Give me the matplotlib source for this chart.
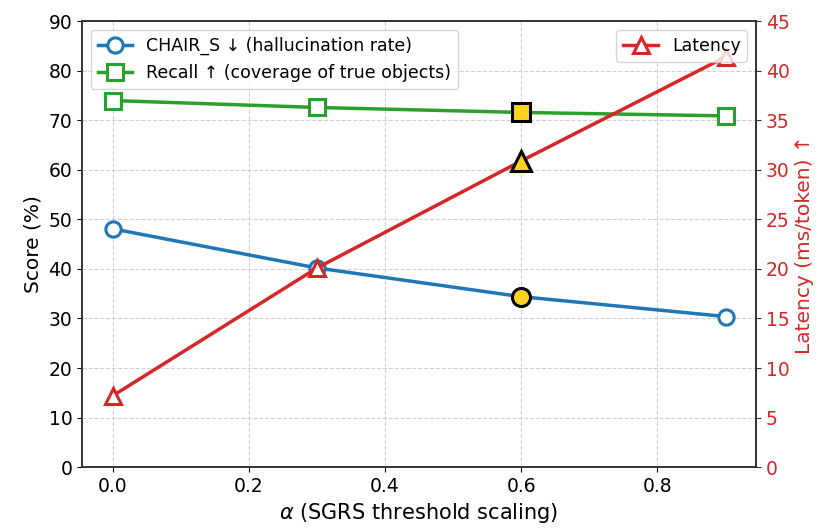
import matplotlib.pyplot as plt
import numpy as np

alpha = [0.0, 0.3, 0.6, 0.9]
chair_s = [48.1, 40.2, 34.4, 30.4]
recall = [74.0, 72.6, 71.6, 70.9]
latency = [7.2, 20.1, 30.9, 41.4]
pick = 2  # alpha = 0.6 highlighted

blue = '#1f77b4'
green = '#2ca02c'
red = '#d62728'
gold = '#ffd21f'

fig, ax1 = plt.subplots(figsize=(8.21, 5.32), dpi=100)

ax1.plot(alpha, chair_s, color=blue, lw=2.5, marker='o', ms=11, mfc='white',
         mew=2.2, label='CHAIR_S ↓ (hallucination rate)')
ax1.plot(alpha, recall, color=green, lw=2.5, marker='s', ms=11, mfc='white',
         mew=2.2, label='Recall ↑ (coverage of true objects)')
ax1.plot(alpha[pick], chair_s[pick], marker='o', ms=13, mfc=gold, mec='black', mew=2.2, ls='none', zorder=5)
ax1.plot(alpha[pick], recall[pick], marker='s', ms=13, mfc=gold, mec='black', mew=2.2, ls='none', zorder=5)

ax1.set_ylim(0, 90)
ax1.set_xlabel(r'$\alpha$ (SGRS threshold scaling)', fontsize=15)
ax1.set_ylabel('Score (%)', fontsize=14.5)
ax1.tick_params(labelsize=13.5)
ax1.grid(True, ls='--', color='#cccccc', alpha=0.9)

ax2 = ax1.twinx()
ax2.plot(alpha, latency, color=red, lw=2.5, marker='^', ms=12, mfc='white',
         mew=2.2, label='Latency')
ax2.plot(alpha[pick], latency[pick], marker='^', ms=14, mfc=gold, mec='black', mew=2.2, ls='none', zorder=5)
ax2.set_ylim(0, 45)
ax2.set_ylabel('Latency (ms/token) ↑', fontsize=14.5, color=red)
ax2.tick_params(axis='y', labelsize=13.5, colors=red)
ax2.tick_params(axis='y', color='#333333')

for ax in (ax1, ax2):
    for s in ax.spines.values():
        s.set_color('#333333')
        s.set_linewidth(1.2)

ax1.legend(loc='upper left', fontsize=12.5)
ax2.legend(loc='upper right', fontsize=12.5)

fig.subplots_adjust(left=0.1, right=0.921, top=0.96, bottom=0.122)
plt.savefig('out.png')
